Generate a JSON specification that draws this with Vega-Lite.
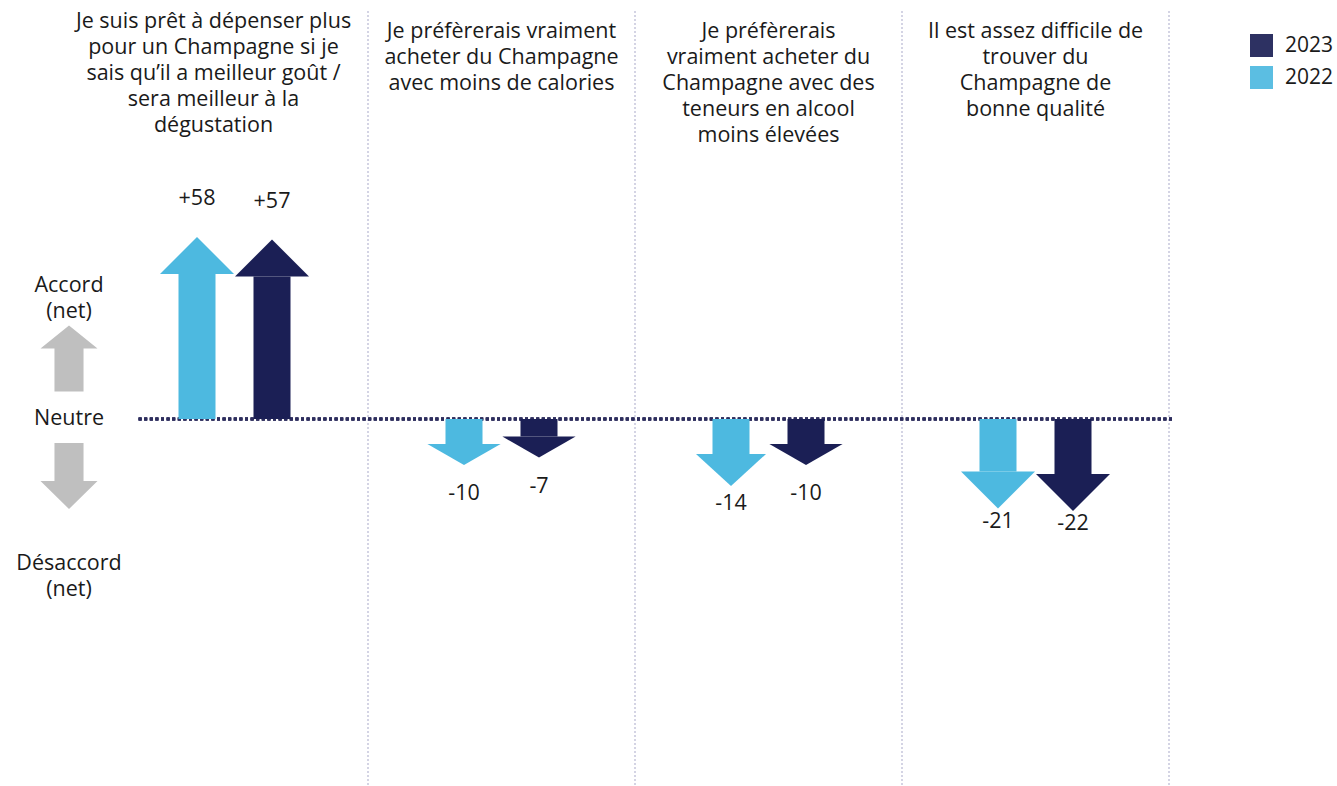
{
  "$schema": "https://vega.github.io/schema/vega-lite/v6.json",
  "background": "white",
  "padding": {"left": 0, "top": 10, "right": 0, "bottom": 0},
  "bounds": "flush",
  "spacing": 0,
  "config": {
    "view": {"stroke": null},
    "font": "Open Sans",
    "text": {"font": "Open Sans", "fontSize": 21.5, "color": "#1a1a1a"}
  },
  "datasets": {
    "arrows": [
      {"q": "Q1", "year": "2022", "value": 58, "label": "+58"},
      {"q": "Q1", "year": "2023", "value": 57, "label": "+57"},
      {"q": "Q2", "year": "2022", "value": -10, "label": "-10"},
      {"q": "Q2", "year": "2023", "value": -7, "label": "-7"},
      {"q": "Q3", "year": "2022", "value": -14, "label": "-14"},
      {"q": "Q3", "year": "2023", "value": -10, "label": "-10"},
      {"q": "Q4", "year": "2022", "value": -21, "label": "-21"},
      {"q": "Q4", "year": "2023", "value": -22, "label": "-22"}
    ],
    "questions": [
      {"q": "Q1", "title": "Je suis prêt à dépenser plus\npour un Champagne si je\nsais qu’il a meilleur goût /\nsera meilleur à la\ndégustation"},
      {"q": "Q2", "title": "Je préfèrerais vraiment\nacheter du Champagne\navec moins de calories"},
      {"q": "Q3", "title": "Je préfèrerais\nvraiment acheter du\nChampagne avec des\nteneurs en alcool\nmoins élevées"},
      {"q": "Q4", "title": "Il est assez difficile de\ntrouver du\nChampagne de\nbonne qualité"}
    ]
  },
  "hconcat": [
    {
      "width": 138,
      "height": 776,
      "data": {"values": [{}]},
      "layer": [
        {
          "mark": {"type": "text", "text": "Accord\n(net)", "lineBreak": "\n", "lineHeight": 26, "baseline": "middle", "align": "center"},
          "encoding": {"y": {"datum": 53.2, "type": "quantitative", "scale": {"domain": [-147.2, 163.2], "nice": false, "zero": false}, "axis": null}}
        },
        {
          "mark": {"type": "text", "text": "Neutre", "baseline": "middle", "align": "center"},
          "encoding": {"y": {"datum": 0, "type": "quantitative"}}
        },
        {
          "mark": {"type": "text", "text": "Désaccord\n(net)", "lineBreak": "\n", "lineHeight": 26, "baseline": "middle", "align": "center"},
          "encoding": {"y": {"datum": -58, "type": "quantitative"}}
        },
        {
          "mark": {"type": "point", "filled": true, "opacity": 1, "fill": "#bfbfbf", "strokeWidth": 0, "size": 4356,
            "shape": "M 0 -1 L 0.864 -0.3 L 0.44 -0.3 L 0.44 1 L -0.44 1 L -0.44 -0.3 L -0.864 -0.3 Z"},
          "encoding": {"y": {"datum": 24.2, "type": "quantitative"}}
        },
        {
          "mark": {"type": "point", "filled": true, "opacity": 1, "fill": "#bfbfbf", "strokeWidth": 0, "size": 4356,
            "shape": "M 0 1 L 0.864 0.15 L 0.44 0.15 L 0.44 -1 L -0.44 -1 L -0.44 0.15 L -0.864 0.15 Z"},
          "encoding": {"y": {"datum": -22.8, "type": "quantitative"}}
        }
      ]
    },
    {
      "width": 1034,
      "height": 776,
      "layer": [
        {
          "data": {"name": "questions"},
          "mark": {"type": "rule", "stroke": "#a9a9c9", "strokeWidth": 1, "strokeDash": [2, 2]},
          "encoding": {
            "x": {"field": "q", "type": "nominal", "bandPosition": 1,
              "scale": {"type": "band", "domain": ["Q1", "Q2", "Q3", "Q4"], "range": [-37, 1031], "paddingInner": 0, "paddingOuter": 0},
              "axis": null}
          }
        },
        {
          "data": {"name": "questions"},
          "mark": {"type": "rule", "stroke": "#2e2e5e", "strokeWidth": 3, "strokeDash": [3, 2.6]},
          "encoding": {"y": {"datum": 0, "type": "quantitative", "scale": {"domain": [-147.2, 163.2], "nice": false, "zero": false}, "axis": null}}
        },
        {
          "data": {"name": "arrows"},
          "mark": {"type": "bar", "width": 37},
          "encoding": {
            "x": {"field": "q", "type": "nominal"},
            "xOffset": {"field": "year", "type": "nominal", "sort": ["2022", "2023"], "scale": {"paddingInner": 0, "paddingOuter": 0.78}},
            "y": {"field": "value", "type": "quantitative"},
            "y2": {"datum": 0},
            "color": {"field": "year", "type": "nominal",
              "scale": {"domain": ["2023", "2022"], "range": ["#1b1f55", "#4db9e0"]},
              "legend": {"title": null, "orient": "none", "legendX": 1250, "legendY": 23, "symbolType": "square", "symbolSize": 529, "symbolStrokeWidth": 0, "symbolOpacity": 0.92, "labelFontSize": 21, "labelFont": "Open Sans", "labelOffset": 12, "rowPadding": 9, "labelColor": "#1a1a1a"}}
          }
        },
        {
          "data": {"name": "arrows"},
          "mark": {"type": "point", "filled": true, "opacity": 1, "strokeWidth": 0, "size": 5476},
          "encoding": {
            "x": {"field": "q", "type": "nominal"},
            "xOffset": {"field": "year", "type": "nominal", "sort": ["2022", "2023"]},
            "y": {"field": "value", "type": "quantitative"},
            "color": {"field": "year", "type": "nominal",
              "legend": {"title": null, "orient": "none", "legendX": 1250, "legendY": 23, "symbolType": "square", "symbolSize": 529, "symbolStrokeWidth": 0, "symbolOpacity": 0.92, "labelFontSize": 21, "labelFont": "Open Sans", "labelOffset": 12, "rowPadding": 9, "labelColor": "#1a1a1a"}},
            "shape": {
              "condition": [
                {"test": "datum.value > 0", "value": "M -1 0 L 0 -1 L 1 0 Z"},
                {"test": "datum.value <= -20", "value": "M -1 0 L 0 1 L 1 0 Z"},
                {"test": "datum.value <= -12", "value": "M -0.946 0 L 0 0.865 L 0.946 0 Z"}
              ],
              "value": "M -0.99 0 L 0 0.57 L 0.99 0 Z"
            }
          }
        },
        {
          "data": {"name": "arrows"},
          "transform": [{"filter": "datum.value > 0"}],
          "mark": {"type": "text", "baseline": "middle", "align": "center", "dy": -75},
          "encoding": {
            "x": {"field": "q", "type": "nominal"},
            "xOffset": {"field": "year", "type": "nominal", "sort": ["2022", "2023"]},
            "y": {"field": "value", "type": "quantitative"},
            "text": {"field": "label"}
          }
        },
        {
          "data": {"name": "arrows"},
          "transform": [{"filter": "datum.value < 0"}],
          "mark": {"type": "text", "baseline": "middle", "align": "center", "dy": 50},
          "encoding": {
            "x": {"field": "q", "type": "nominal"},
            "xOffset": {"field": "year", "type": "nominal", "sort": ["2022", "2023"]},
            "y": {"field": "value", "type": "quantitative"},
            "text": {"field": "label"}
          }
        },
        {
          "data": {"name": "questions"},
          "transform": [{"filter": "datum.q !== 'Q1'"}],
          "mark": {"type": "text", "baseline": "top", "align": "center", "lineBreak": "\n", "lineHeight": 26},
          "encoding": {
            "x": {"field": "q", "type": "nominal"},
            "y": {"datum": 159.2, "type": "quantitative"},
            "text": {"field": "title"}
          }
        },
        {
          "data": {"name": "questions"},
          "transform": [{"filter": "datum.q === 'Q1'"}],
          "mark": {"type": "text", "baseline": "top", "align": "center", "lineBreak": "\n", "lineHeight": 26, "dx": -21},
          "encoding": {
            "x": {"field": "q", "type": "nominal"},
            "y": {"datum": 163.2, "type": "quantitative"},
            "text": {"field": "title"}
          }
        }
      ]
    }
  ],
  "resolve": {"scale": {"y": "independent", "x": "independent"}}
}
